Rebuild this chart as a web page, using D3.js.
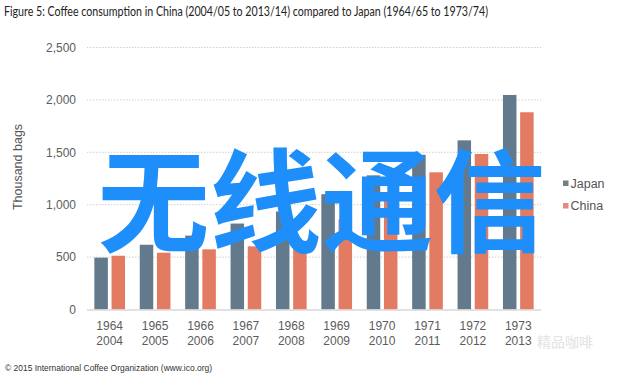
<!DOCTYPE html>
<html><head><meta charset="utf-8">
<script src="https://cdn.jsdelivr.net/npm/d3@7"></script>
<style>html,body{margin:0;padding:0;background:#fff;}svg{display:block;}</style>
</head><body>
<svg id="c" width="640" height="377"></svg>
<script>
const yearsJapan = ["1964","1965","1966","1967","1968","1969","1970","1971","1972","1973"];
const yearsChina = ["2004","2005","2006","2007","2008","2009","2010","2011","2012","2013"];
const japan = [495, 618, 705, 820, 935, 1100, 1280, 1476, 1614, 2047];
const china = [513, 542, 574, 603, 580, 860, 1110, 1309, 1484, 1882];
const seriesNames = ["Japan","China"];
const yTicks = [0, 500, 1000, 1500, 2000, 2500];
const colors = {Japan:"#627a8c", China:"#e37a62"};
const legendColors = {Japan:"#6f8088", China:"#e38b82"};

const svg = d3.select("#c");
const idx = d3.range(japan.length);
const x0 = d3.scaleBand().domain(idx).range([87,541]).paddingInner(0.324).paddingOuter(0.162);
const x1 = d3.scaleBand().domain(seriesNames).range([0, x0.bandwidth()]).paddingInner(0.215);
const y = d3.scaleLinear().domain([0,2500]).range([309.5,47.5]);

// title
svg.append("text").attr("x",4).attr("y",15.5)
  .attr("font-family","Lato, 'Open Sans', sans-serif").attr("font-size",13.5).attr("fill","#222")
  .attr("textLength",484).attr("lengthAdjust","spacingAndGlyphs")
  .text("Figure 5: Coffee consumption in China (2004/05 to 2013/14) compared to Japan (1964/65 to 1973/74)");

// gridlines
const grid = svg.append("g");
grid.selectAll("line").data(yTicks.filter(d=>d>0)).join("line")
  .attr("x1",87).attr("x2",541).attr("y1",d=>y(d)).attr("y2",d=>y(d))
  .attr("stroke","#cfcfcf").attr("stroke-width",1).attr("stroke-dasharray","1.5,1.5");

// y axis labels
const yAxis = d3.axisLeft(y).tickValues(yTicks).tickFormat(d3.format(",")).tickSize(0).tickPadding(0);
const ya = svg.append("g").attr("transform","translate(76,0)").call(yAxis);
ya.select(".domain").remove();
ya.selectAll("text").attr("font-family","Liberation Sans, Arial, sans-serif").attr("font-size",12).attr("fill","#5c5c5c");

svg.append("text").attr("transform","translate(22,167) rotate(-90)").attr("text-anchor","middle")
  .attr("font-family","Liberation Sans, Arial, sans-serif").attr("font-size",12.5).attr("fill","#555")
  .text("Thousand bags");

// bars
const g = svg.append("g");
idx.forEach(i=>{
  const vals = {Japan: japan[i], China: china[i]};
  g.selectAll(null).data(seriesNames).join("rect")
    .attr("x", s => x0(i) + x1(s)).attr("width", x1.bandwidth())
    .attr("y", s => y(vals[s])).attr("height", s => y(0) - y(vals[s]))
    .attr("fill", s => colors[s]);
});

// baseline
svg.append("line").attr("x1",87).attr("x2",541).attr("y1",y(0)+0.5).attr("y2",y(0)+0.5)
  .attr("stroke","#d9d9d9").attr("stroke-width",1.5);

// x labels
const xl = svg.append("g");
idx.forEach(i=>{
  const cx = x0(i) + x0.bandwidth()/2;
  const t = xl.append("text").attr("text-anchor","middle")
    .attr("font-family","Liberation Sans, Arial, sans-serif").attr("font-size",12).attr("fill","#5c5c5c");
  t.append("tspan").attr("x",cx).attr("y",329.5).text(yearsJapan[i]);
  t.append("tspan").attr("x",cx).attr("y",344.5).text(yearsChina[i]);
});

// legend
const lg = svg.append("g");
seriesNames.forEach((s,k)=>{
  const cy = 183 + k*22.5;
  lg.append("rect").attr("x",563).attr("y",cy-2.5).attr("width",5.5).attr("height",5.5).attr("fill",legendColors[s]);
  lg.append("text").attr("x",570.5).attr("y",cy+4.5)
    .attr("font-family","Liberation Sans, Arial, sans-serif").attr("font-size",12.5).attr("fill","#555").text(s);
});

// footer
svg.append("text").attr("x",5).attr("y",370.5)
  .attr("font-family","Liberation Sans, Arial, sans-serif").attr("font-size",9.5).attr("fill","#333")
  .attr("textLength",207).attr("lengthAdjust","spacingAndGlyphs")
  .text("© 2015 International Coffee Organization (www.ico.org)");

// faint watermark bottom right
svg.append("text").attr("x",537).attr("y",347)
  .attr("font-family","'Noto Sans CJK SC', sans-serif").attr("font-size",14).attr("fill","#e2e2e2")
  .text("精品咖啡");

// large overlay text
svg.append("text").attr("x",321.5).attr("y",244).attr("text-anchor","middle")
  .attr("font-family","'Noto Sans CJK SC', sans-serif").attr("font-weight",700).attr("font-size",112)
  .attr("fill","#1e8ffa").text("无线通信");
</script>
</body></html>
